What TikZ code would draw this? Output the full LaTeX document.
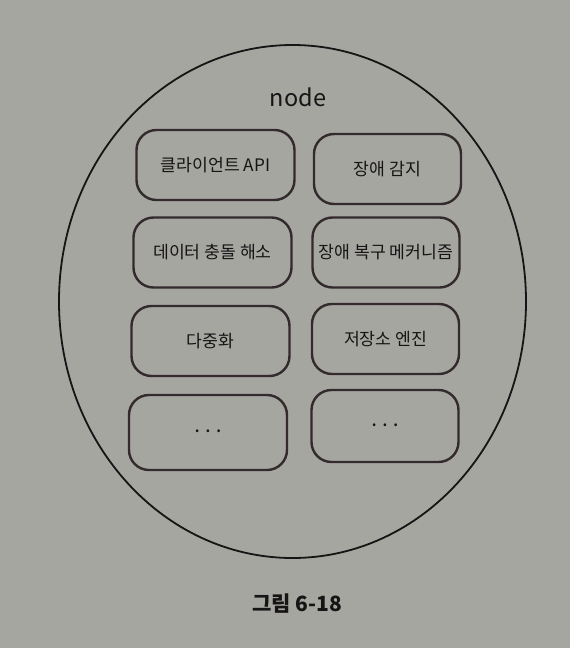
\documentclass[tikz,border=0pt]{standalone}
\usepackage{fontspec}
\usetikzlibrary{shapes.geometric}
\newfontfamily\kr{Noto Sans CJK KR}
\definecolor{paper}{RGB}{166,166,161}
\definecolor{ink}{RGB}{22,20,20}
\definecolor{boxline}{RGB}{50,42,44}
\newcommand{\mydots}{•\hspace{7pt}•\hspace{7pt}•}
\begin{document}
\begin{tikzpicture}[x=1pt,y=-1pt,
  modbox/.style={draw=boxline,line width=2.4pt,rounded corners=20pt,
    minimum height=70pt,inner sep=0pt,font=\kr\fontsize{17.2}{19}\selectfont,text=ink},
  leftbox/.style={modbox,minimum width=158pt},
  rightbox/.style={modbox,minimum width=147pt},
  dotstext/.style={font=\kr\fontsize{11}{11}\selectfont}]
\fill[paper] (0,0) rectangle (570,648);
\useasboundingbox (0,0) rectangle (570,648);
\node[draw=ink,line width=1.8pt,ellipse,minimum width=467pt,minimum height=513pt,inner sep=0pt] (nodecircle) at (292.5,301.5) {};
\node[font=\kr\fontsize{23.5}{25}\selectfont,text=ink] (title) at (298,97) {node};
\node[leftbox] (client) at (215.5,165) {클라이언트 API};
\node[rightbox] (detect) at (387.5,169) {장애 감지};
\node[leftbox] (conflict) at (212.5,252.5) {데이터 충돌 해소};
\node[rightbox] (recover) at (386,252.5) {장애 복구 메커니즘};
\node[leftbox] (replica) at (210.5,341) {다중화};
\node[rightbox] (storage) at (385.5,339) {저장소 엔진};
\node[leftbox,minimum height=75pt,dotstext] (moreL) at (208,432.5) {\mydots};
\node[rightbox,minimum height=72pt,dotstext] (moreR) at (385,426) {\mydots};
\node[font=\kr\bfseries\fontsize{21}{23}\selectfont,text=ink] (caption) at (297,604) {그림 6-18};
\end{tikzpicture}
\end{document}
